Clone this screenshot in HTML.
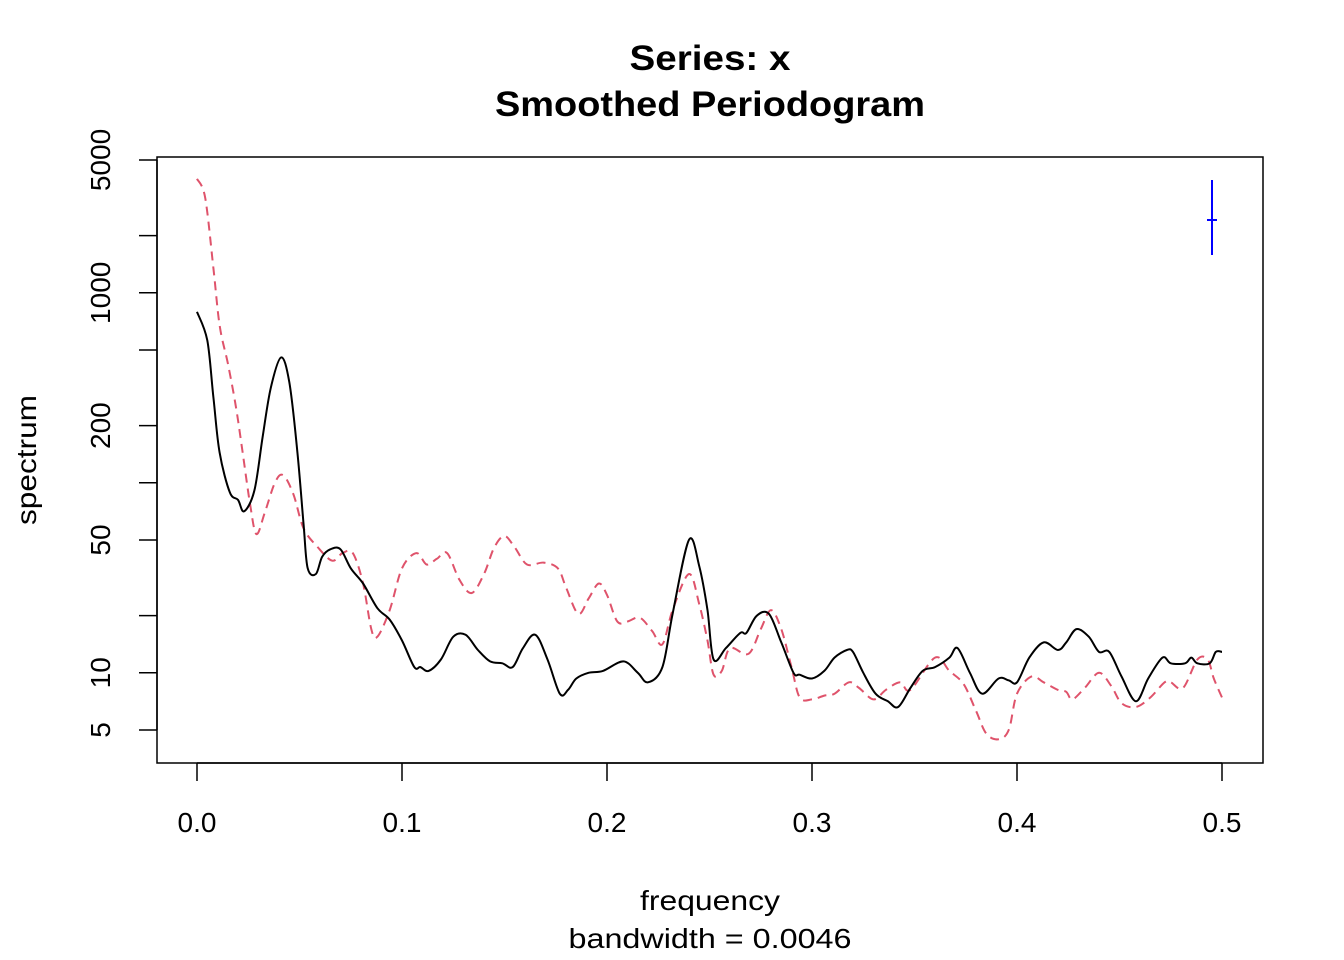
<!DOCTYPE html>
<html><head><meta charset="utf-8"><style>
html,body{margin:0;padding:0;background:#fff;}
svg{display:block;font-family:"Liberation Sans",Arial,sans-serif;}
</style></head><body>
<svg id="chart" width="1344" height="960" viewBox="0 0 1344 960" xmlns="http://www.w3.org/2000/svg">
<text x="710" y="70" font-size="35" font-weight="bold" text-anchor="middle" textLength="161" lengthAdjust="spacingAndGlyphs">Series: x</text>
<text x="710" y="116" font-size="35" font-weight="bold" text-anchor="middle" textLength="430" lengthAdjust="spacingAndGlyphs">Smoothed Periodogram</text>
<rect x="157" y="157" width="1106" height="606" fill="none" stroke="#000" stroke-width="1.5"/>
<g id="xaxis"></g>
<g id="yaxis"></g>
<text x="710" y="910" font-size="28" text-anchor="middle" textLength="140" lengthAdjust="spacingAndGlyphs">frequency</text>
<text x="710" y="948" font-size="28" text-anchor="middle" textLength="283" lengthAdjust="spacingAndGlyphs">bandwidth = 0.0046</text>
<text transform="translate(36,460) rotate(-90)" font-size="28" text-anchor="middle" textLength="130" lengthAdjust="spacingAndGlyphs">spectrum</text>
<g id="series"></g>
<g stroke="#0000ff" stroke-width="2">
<line x1="1212" y1="180" x2="1212" y2="255"/>
<line x1="1207" y1="220" x2="1217" y2="220"/>
</g>
</svg>
<script>
const xTicks = [0, 0.1, 0.2, 0.3, 0.4, 0.5];
const xTickLabels = ["0.0", "0.1", "0.2", "0.3", "0.4", "0.5"];
const yTicks = [5, 10, 20, 50, 100, 200, 500, 1000, 2000, 5000];
const yTickLabels = ["5", "10", "", "50", "", "200", "", "1000", "", "5000"];
const freqBlack = [0.000,0.005,0.008,0.011,0.016,0.020,0.023,0.028,0.032,0.036,0.041,0.045,0.049,0.052,0.054,0.058,0.061,0.065,0.070,0.075,0.081,0.088,0.094,0.100,0.106,0.109,0.113,0.119,0.125,0.131,0.137,0.143,0.149,0.154,0.159,0.165,0.171,0.177,0.181,0.185,0.191,0.198,0.208,0.215,0.220,0.227,0.232,0.240,0.245,0.249,0.252,0.258,0.265,0.268,0.273,0.279,0.285,0.291,0.294,0.300,0.306,0.311,0.317,0.320,0.325,0.331,0.337,0.342,0.348,0.354,0.360,0.367,0.371,0.377,0.383,0.391,0.396,0.400,0.406,0.413,0.420,0.424,0.429,0.435,0.440,0.445,0.451,0.458,0.464,0.471,0.475,0.482,0.485,0.488,0.494,0.497,0.500];
const log10SpecBlack = [2.90,2.75,2.45,2.16,1.95,1.91,1.85,1.96,2.24,2.50,2.66,2.53,2.16,1.78,1.55,1.52,1.61,1.65,1.65,1.55,1.47,1.34,1.28,1.17,1.03,1.03,1.01,1.07,1.19,1.20,1.12,1.06,1.05,1.03,1.13,1.20,1.07,0.89,0.91,0.97,1.00,1.01,1.06,1.00,0.95,1.03,1.31,1.70,1.56,1.33,1.07,1.13,1.21,1.21,1.30,1.31,1.16,1.00,0.99,0.97,1.01,1.08,1.12,1.11,1.00,0.89,0.85,0.82,0.92,1.01,1.03,1.08,1.13,1.00,0.89,0.97,0.96,0.95,1.08,1.16,1.12,1.16,1.23,1.19,1.11,1.11,0.98,0.85,0.97,1.08,1.05,1.05,1.08,1.05,1.05,1.11,1.11];
const freqRed = [0.000,0.004,0.008,0.011,0.015,0.019,0.022,0.026,0.029,0.033,0.038,0.042,0.047,0.052,0.059,0.066,0.071,0.076,0.081,0.085,0.088,0.094,0.100,0.107,0.112,0.117,0.122,0.128,0.134,0.140,0.145,0.150,0.155,0.161,0.169,0.176,0.180,0.186,0.191,0.196,0.200,0.205,0.210,0.216,0.222,0.227,0.232,0.240,0.245,0.249,0.252,0.256,0.260,0.269,0.275,0.280,0.285,0.290,0.294,0.300,0.306,0.311,0.318,0.323,0.330,0.336,0.343,0.348,0.360,0.367,0.374,0.380,0.385,0.391,0.396,0.400,0.407,0.413,0.420,0.424,0.427,0.433,0.440,0.446,0.451,0.458,0.465,0.472,0.475,0.481,0.488,0.493,0.496,0.500];
const log10SpecRed = [3.60,3.50,3.13,2.83,2.63,2.40,2.18,1.88,1.73,1.84,2.00,2.04,1.94,1.76,1.66,1.59,1.63,1.63,1.47,1.23,1.19,1.33,1.55,1.63,1.57,1.60,1.63,1.49,1.42,1.52,1.66,1.72,1.66,1.57,1.58,1.55,1.45,1.31,1.39,1.47,1.41,1.27,1.27,1.29,1.22,1.15,1.33,1.52,1.36,1.17,0.99,1.01,1.13,1.10,1.23,1.33,1.23,1.03,0.87,0.86,0.88,0.89,0.95,0.92,0.86,0.91,0.95,0.91,1.08,1.01,0.94,0.80,0.68,0.65,0.70,0.89,0.98,0.95,0.91,0.90,0.86,0.92,1.00,0.93,0.84,0.82,0.87,0.95,0.95,0.92,1.07,1.07,0.97,0.87];

const NS = "http://www.w3.org/2000/svg";
function xScale(f){ return 197 + f * 2050; }
function yScaleLog(l){ return 730 - (l - Math.log10(5)) * 190; }
function yScale(v){ return yScaleLog(Math.log10(v)); }

const xa = document.getElementById('xaxis');
const ya = document.getElementById('yaxis');
const base = document.createElementNS(NS,'line');
base.setAttribute('x1', xScale(xTicks[0])); base.setAttribute('x2', xScale(xTicks[xTicks.length-1]));
base.setAttribute('y1', 763); base.setAttribute('y2', 763);
base.setAttribute('stroke','#000'); base.setAttribute('stroke-width','1.5');


xa.appendChild(base);
xTicks.forEach((t,i)=>{
  const x = xScale(t);
  const tk = document.createElementNS(NS,'line');
  tk.setAttribute('x1',x); tk.setAttribute('x2',x); tk.setAttribute('y1',763); tk.setAttribute('y2',781);
  tk.setAttribute('stroke','#000'); tk.setAttribute('stroke-width','1.5');
  
  
  xa.appendChild(tk);
  const tx = document.createElementNS(NS,'text');
  tx.setAttribute('x',x); tx.setAttribute('y',832); tx.setAttribute('font-size','28'); tx.setAttribute('text-anchor','middle');
  tx.textContent = xTickLabels[i];
  
  
  xa.appendChild(tx);
});
const ybase = document.createElementNS(NS,'line');
ybase.setAttribute('x1',157); ybase.setAttribute('x2',157);
ybase.setAttribute('y1', yScale(yTicks[0])); ybase.setAttribute('y2', yScale(yTicks[yTicks.length-1]));
ybase.setAttribute('stroke','#000'); ybase.setAttribute('stroke-width','1.5');


ya.appendChild(ybase);
yTicks.forEach((t,i)=>{
  const y = yScale(t);
  const tk = document.createElementNS(NS,'line');
  tk.setAttribute('x1',139); tk.setAttribute('x2',157); tk.setAttribute('y1',y); tk.setAttribute('y2',y);
  tk.setAttribute('stroke','#000'); tk.setAttribute('stroke-width','1.5');
  
  
  ya.appendChild(tk);
  if (yTickLabels[i]) {
    const tx = document.createElementNS(NS,'text');
    tx.setAttribute('transform','translate(110,'+y+') rotate(-90)');
    tx.setAttribute('font-size','28'); tx.setAttribute('text-anchor','middle');
    tx.textContent = yTickLabels[i];
    
    
    ya.appendChild(tx);
  }
});

function smoothPath(xs, ls){
  const p = xs.map((f,i)=>[xScale(f), yScaleLog(ls[i])]);
  let d = 'M'+p[0][0].toFixed(1)+','+p[0][1].toFixed(1);
  for (let i=0;i<p.length-1;i++){
    const p0=p[Math.max(0,i-1)], p1=p[i], p2=p[i+1], p3=p[Math.min(p.length-1,i+2)];
    const c1=[p1[0]+(p2[0]-p0[0])/6, p1[1]+(p2[1]-p0[1])/6];
    const c2=[p2[0]-(p3[0]-p1[0])/6, p2[1]-(p3[1]-p1[1])/6];
    d += ' C'+c1[0].toFixed(1)+','+c1[1].toFixed(1)+' '+c2[0].toFixed(1)+','+c2[1].toFixed(1)+' '+p2[0].toFixed(1)+','+p2[1].toFixed(1);
  }
  return d;
}
const sg = document.getElementById('series');
const red = document.createElementNS(NS,'path');
red.setAttribute('d', smoothPath(freqRed, log10SpecRed));
red.setAttribute('fill','none'); red.setAttribute('stroke','#DF536B'); red.setAttribute('stroke-width','2');
red.setAttribute('stroke-dasharray','9,6');


sg.appendChild(red);
const blk = document.createElementNS(NS,'path');
blk.setAttribute('d', smoothPath(freqBlack, log10SpecBlack));
blk.setAttribute('fill','none'); blk.setAttribute('stroke','#000'); blk.setAttribute('stroke-width','2');


sg.appendChild(blk);
</script>
</body></html>
